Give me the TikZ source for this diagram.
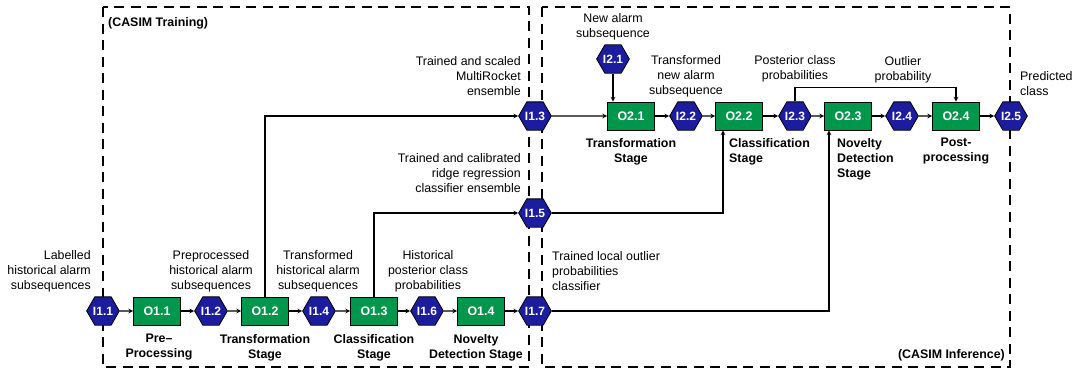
\documentclass[tikz,border=0pt]{standalone}
\usepackage{fontspec}
\setmainfont{Liberation Sans}
\usetikzlibrary{shapes.geometric}
\tikzset{>=stealth}
\colorlet{hexColor}{rgb,255:red,28;green,28;blue,158}
\colorlet{opColor}{rgb,255:red,0;green,150;blue,75}
\tikzset{
  hexnode/.style={regular polygon, regular polygon sides=6,
    minimum size=31pt, inner sep=0pt, draw=black, line width=0.8pt, fill=hexColor,
    text=white, font=\fontsize{12}{14}\selectfont\bfseries},
  opbox/.style={rectangle, minimum width=47pt, minimum height=28pt, inner sep=0pt,
    draw=black, line width=0.8pt, fill=opColor, text=white, font=\fontsize{12.4}{15}\selectfont\bfseries},
  lbl/.style={inner sep=0pt, align=center, font=\fontsize{12.4}{15}\selectfont},
  stage/.style={inner sep=0pt, align=center, font=\fontsize{12.4}{15}\selectfont\bfseries},
  dashbox/.style={line width=2.9pt, dash pattern=on 10pt off 6.5pt},
  flow/.style={->, line width=1.1pt}
}

\begin{document}
\begin{tikzpicture}[x=1pt, y=-1pt]
  \useasboundingbox (0,0) rectangle (1080,370);
  % training and inference frames
  \draw [dashbox] (103,7) rectangle (529,367);
  \draw [dashbox] (542,7) rectangle (1010,367);
  \node [stage, anchor=west] (trn) at (108,23) {(CASIM Training)};
  \node [stage, anchor=east] (inf) at (1005,355) {(CASIM Inference)};

  % training row
  \node [hexnode] (I11) at (103,311) {I1.1};
  \node [opbox]   (O11) at (157,311) {O1.1};
  \node [hexnode] (I12) at (211,311) {I1.2};
  \node [opbox]   (O12) at (265,311) {O1.2};
  \node [hexnode] (I14) at (319,311) {I1.4};
  \node [opbox]   (O13) at (374,311) {O1.3};
  \node [hexnode] (I16) at (427,311) {I1.6};
  \node [opbox]   (O14) at (481,311) {O1.4};
  \node [hexnode] (I17) at (535,311) {I1.7};
  \node [hexnode] (I13) at (535,116) {I1.3};
  \node [hexnode] (I15) at (535,213) {I1.5};

  % inference row
  \node [hexnode] (I21) at (613,59) {I2.1};
  \node [opbox]   (O21) at (631,116) {O2.1};
  \node [hexnode] (I22) at (686,116) {I2.2};
  \node [opbox]   (O22) at (739,116) {O2.2};
  \node [hexnode] (I23) at (795,116) {I2.3};
  \node [opbox]   (O23) at (848,116) {O2.3};
  \node [hexnode] (I24) at (902,116) {I2.4};
  \node [opbox]   (O24) at (956,116) {O2.4};
  \node [hexnode] (I25) at (1011,116) {I2.5};

  \foreach \a/\b in {I11/O11,O11/I12,I12/O12,O12/I14,I14/O13,O13/I16,I16/O14,O14/I17,
                     I13/O21,O21/I22,I22/O22,O22/I23,I23/O23,O23/I24,I24/O24,O24/I25}
    \draw [flow] (\a) -- (\b);
  \draw [flow] (O12.north) |- (I13.west);
  \draw [flow] (O13.north) |- (I15.west);
  \draw [flow] (I21.south) -- (I21.south |- O21.north);
  \draw [flow] (I15.east) -| ([xshift=-16pt]O22.south);
  \draw [flow] (I17.east) -| ([xshift=-19pt]O23.south);
  \draw [flow] (I23.north) -- ++(0,-14) -| (O24.north);

  % data labels
  \node [lbl, anchor=east, align=right] (l11) at (91,271) {Labelled\\historical alarm\\subsequences};
  \node [lbl] (l12) at (211,271) {Preprocessed\\historical alarm\\subsequences};
  \node [lbl] (l14) at (318,271) {Transformed\\historical alarm\\subsequences};
  \node [lbl] (l16) at (428,271) {Historical\\posterior class\\probabilities};
  \node [lbl, anchor=west, align=left] (l17) at (552,271) {Trained local outlier\\probabilities\\classifier};
  \node [lbl, anchor=east, align=right] (l13) at (521,76) {Trained and scaled\\MultiRocket\\ensemble};
  \node [lbl, anchor=east, align=right] (l15) at (521,173) {Trained and calibrated\\ridge regression\\classifier ensemble};
  \node [lbl] (l21) at (613,26.5) {New alarm\\subsequence};
  \node [lbl] (l22) at (686,76) {Transformed\\new alarm\\subsequence};
  \node [lbl] (l23) at (795,68.5) {Posterior class\\probabilities};
  \node [lbl] (l24) at (903,69.5) {Outlier\\probability};
  \node [lbl, anchor=west, align=left] (l25) at (1020,83.5) {Predicted\\class};

  % stage labels
  \node [stage] (s11) at (159,347.5) {Pre–\\Processing};
  \node [stage] (s12) at (265,347.5) {Transformation\\Stage};
  \node [stage] (s13) at (374,347.5) {Classification\\Stage};
  \node [stage] (s14) at (476,347.5) {Novelty\\Detection Stage};
  \node [stage] (s21) at (631,151.5) {Transformation\\Stage};
  \node [stage, anchor=west, align=left] (s22) at (729,151.5) {Classification\\Stage};
  \node [stage, anchor=west, align=left] (s23) at (837,159) {Novelty\\Detection\\Stage};
  \node [stage] (s24) at (956,151.5) {Post-\\processing};
\end{tikzpicture}
\end{document}
